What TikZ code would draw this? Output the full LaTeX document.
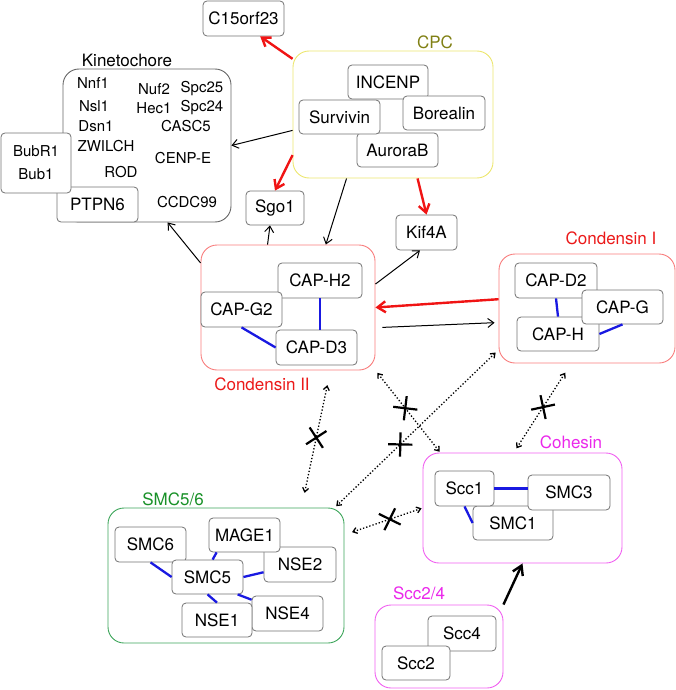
\documentclass[tikz,border=0pt]{standalone}
\usepackage{fontspec}
\setmainfont{TeX Gyre Heros}
\usepackage{tikz}
\usetikzlibrary{shapes, arrows.meta}
\definecolor{cpcline}{RGB}{236,230,110}
\definecolor{cpctext}{RGB}{128,128,20}
\definecolor{condline}{RGB}{248,125,125}
\definecolor{condtext}{RGB}{235,25,25}
\definecolor{cohline}{RGB}{240,95,240}
\definecolor{cohtext}{RGB}{235,40,235}
\definecolor{smcline}{RGB}{60,165,90}
\definecolor{smctext}{RGB}{25,145,40}
\definecolor{bondblue}{RGB}{25,25,225}
\definecolor{arrowred}{RGB}{240,20,20}
\tikzstyle{prot} = [rectangle, draw=black!55, fill=white, line width=0.8pt, rounded corners=4pt,
minimum width=81pt, minimum height=35pt, inner sep=0pt, font=\fontsize{17}{20}\selectfont]
\tikzstyle{group} = [rectangle, rounded corners=16pt, line width=0.9pt, inner sep=0pt]
\tikzstyle{glabel} = [inner sep=0pt, font=\fontsize{17}{20}\selectfont]
\tikzstyle{kmem} = [inner sep=0pt, font=\fontsize{15}{18}\selectfont]
\tikzstyle{line} = [draw, line width=1pt, -{Straight Barb[length=6pt,width=9pt]}]
\tikzstyle{redline} = [draw=arrowred, line width=2.4pt, -{Straight Barb[length=8pt,width=11pt]}]
\tikzstyle{dotline} = [draw, dotted, line width=1.3pt, {Straight Barb[length=4pt,width=6pt]}-{Straight Barb[length=4pt,width=6pt]}]
\tikzstyle{bond} = [draw=bondblue, line width=2.3pt]
\tikzstyle{block} = [draw, solid, cross out, line width=2.2pt, shorten <=0pt, shorten >=0pt,
minimum width=15pt, minimum height=15pt, inner sep=0pt, sloped]

\begin{document}
\begin{tikzpicture}[x=1pt, y=-1pt]
	\useasboundingbox (0,0) rectangle (676,690);
	
	% Place groups
	\node [group, draw=black!60, minimum width=168pt, minimum height=153pt] (Kinetochore) at (147,145.5)	{};
	\node [group, draw=cpcline, minimum width=200pt, minimum height=127pt]	(CPC)			at (393,114.5)	{};
	\node [group, draw=condline, minimum width=174pt, minimum height=125pt]	(Condensin II)	at (288,307.5)	{};
	\node [group, draw=condline, minimum width=176pt, minimum height=109pt]	(Condensin I)	at (587,308.5)	{};
	\node [group, draw=cohline, minimum width=199pt, minimum height=110pt]	(Cohesin)		at (522.5,508)	{};
	\node [group, draw=cohline, minimum width=128pt, minimum height=83pt]	(Scc24)			at (439,646.5)	{};
	\node [group, draw=smcline, minimum width=236pt, minimum height=135pt]	(SMC56)			at (226,575.5)	{};
	
	% Group labels
	\node [glabel]					(Kinetochore label)		at (127,60)		{Kinetochore};
	\node [glabel, text=cpctext]	(CPC label)				at (435,42)		{CPC};
	\node [glabel, text=condtext]	(Condensin II label)	at (262,384)	{Condensin II};
	\node [glabel, text=condtext]	(Condensin I label)		at (611,238)	{Condensin I};
	\node [glabel, text=cohtext]	(Cohesin label)			at (571,442)	{Cohesin};
	\node [glabel, text=cohtext]	(Scc24 label)			at (419,593)	{Scc2/4};
	\node [glabel, text=smctext]	(SMC56 label)			at (173,499)	{SMC5/6};
	
	% Kinetochore members
	\node [kmem] (Nnf1)		at (93,83)		{Nnf1};
	\node [kmem] (Nsl1)		at (94,106)		{Nsl1};
	\node [kmem] (Dsn1)		at (96,126)		{Dsn1};
	\node [kmem] (ZWILCH)	at (106,146)	{ZWILCH};
	\node [kmem] (ROD)		at (121,172)	{ROD};
	\node [kmem] (Nuf2)		at (154,89)		{Nuf2};
	\node [kmem] (Spc25)	at (202,89)		{Spc25};
	\node [kmem] (Hec1)		at (154,108)	{Hec1};
	\node [kmem] (Spc24)	at (202,108)	{Spc24};
	\node [kmem] (CASC5)	at (186,126)	{CASC5};
	\node [kmem] (CENP-E)	at (183,158)	{CENP-E};
	\node [kmem] (CCDC99)	at (187,202)	{CCDC99};
	\node [prot]									(PTPN6)		at (97.5,204.5)	{PTPN6};
	\node [prot, minimum width=70pt, minimum height=60pt, align=center,
		font=\fontsize{15}{23}\selectfont]			(BubR1)		at (36,163)		{BubR1\\Bub1};
	
	% Place nodes
	\node [prot]									(C15orf23)	at (243.5,18.5)	{C15orf23};
	\node [prot, minimum width=58pt, minimum height=34pt]	(Sgo1)	at (275,208)	{Sgo1};
	\node [prot, minimum width=61pt]				(Kif4A)		at (426.5,232.5) {Kif4A};
	\node [prot, minimum width=80pt, minimum height=34pt]	(INCENP)	at (388,82)		{INCENP};
	\node [prot, minimum height=34pt]				(AuroraB)	at (397.5,150)	{AuroraB};
	\node [prot, minimum height=34pt]				(Survivin)	at (339.5,117)	{Survivin};
	\node [prot, minimum width=82pt, minimum height=34pt]	(Borealin)	at (444,113)	{Borealin};
	\node [prot, minimum width=84pt]				(CAP-H2)	at (320,280.5)	{CAP-H2};
	\node [prot]									(CAP-G2)	at (241.5,309.5) {CAP-G2};
	\node [prot]									(CAP-D3)	at (316.5,347.5) {CAP-D3};
	\node [prot, minimum width=82pt]				(CAP-D2)	at (556,280.5)	{CAP-D2};
	\node [prot, minimum width=82pt, minimum height=34pt]	(CAP-H)	at (558,334)	{CAP-H};
	\node [prot, minimum height=34pt]				(CAP-G)		at (622.5,307)	{CAP-G};
	\node [prot, minimum width=80pt, minimum height=34pt]	(SMC1)	at (513,523)	{SMC1};
	\node [prot, minimum width=59pt]				(Scc1)		at (464.5,488.5) {Scc1};
	\node [prot, minimum width=82pt]				(SMC3)		at (569,492.5)	{SMC3};
	\node [prot, minimum width=68pt]				(Scc4)		at (462,633.5)	{Scc4};
	\node [prot, minimum width=68pt, minimum height=34pt]	(Scc2)	at (416,663)	{Scc2};
	\node [prot, minimum width=71pt]				(SMC6)		at (150.5,544.5) {SMC6};
	\node [prot, minimum width=72pt]				(NSE2)		at (300,564.5)	{NSE2};
	\node [prot, minimum width=71pt, minimum height=34pt]	(MAGE1)	at (244.5,535)	{MAGE1};
	\node [prot, minimum width=71pt, minimum height=34pt]	(SMC5)	at (207.5,577)	{SMC5};
	\node [prot, minimum width=71pt]				(NSE4)		at (287.5,613.5) {NSE4};
	\node [prot, minimum width=70pt, minimum height=34pt]	(NSE1)	at (217,620)	{NSE1};
	
	% Draw bonds
	\path [bond] (CAP-H2.south)		-- (CAP-H2.south |- CAP-D3.north);
	\path [bond] (CAP-G2.south)		-- (CAP-D3.west);
	\path [bond] (CAP-D2.south)		-- (CAP-H.north);
	\path [bond] (CAP-G.south)		-- (CAP-H.east);
	\path [bond] (Scc1.east)		-- (Scc1.east -| SMC3.west);
	\path [bond] (Scc1.south)		-- (SMC1.west);
	\path [bond] (SMC6.south)		-- (SMC5.west);
	\path [bond] ([xshift=8pt]MAGE1.south west)	-- ([xshift=4pt]MAGE1.south west |- SMC5.north);
	\path [bond] (SMC5.east)		-- (NSE2.192);
	\path [bond] (SMC5.south)		-- (NSE1.north);
	\path [bond] (SMC5.-30)			-- (NSE4.159);
	
	%Draw edges
	\path [redline] (CPC.151)			-- (C15orf23.-47);
	\path [line]	(CPC.189)			-- (Kinetochore.east);
	\path [redline] (CPC.202)			-- (Sgo1.north);
	\path [line]	(CPC.234)			-- (Condensin II.59);
	\path [redline] (CPC.-69)			-- (Kif4A.north);
	\path [line]	(Condensin II.108)	-- (Sgo1.254);
	\path [line]	(Condensin II.153)	-- (Kinetochore.-75);
	\path [line]	(Condensin II.15)	-- (Kif4A.250);
	\path [redline] (Condensin I.174)	-- (Condensin II.east);
	\path [line, shorten <=7pt, shorten >=4pt] (Condensin II.-13) -- (Condensin I.189);
	\path [line, line width=2.4pt, -{Straight Barb[length=9pt,width=11pt]}] (Scc24.north east) -- (Cohesin.south);
	
	%Draw blocked links
	\path [dotline, shorten <=15pt, shorten >=15pt]	(Condensin II.-56)		-- node[block, pos=.49] {} (SMC56.42);
	\path [dotline, shorten <=3pt, shorten >=1pt]	(Condensin II.south east) -- node[block, pos=.46] {} (Cohesin.146);
	\path [dotline, shorten <=4pt, shorten >=2pt]	(Condensin I.205)		-- node[block, pos=.60] {} (SMC56.32);
	\path [dotline, shorten <=11pt, shorten >=5pt]	(Condensin I.254)		-- node[block, pos=.49] {} (Cohesin.99);
	\path [dotline, shorten <=8pt, shorten >=1pt]	(SMC56.19)				-- node[block, pos=.58] {} (Cohesin.west);
	
\end{tikzpicture}
\end{document}
